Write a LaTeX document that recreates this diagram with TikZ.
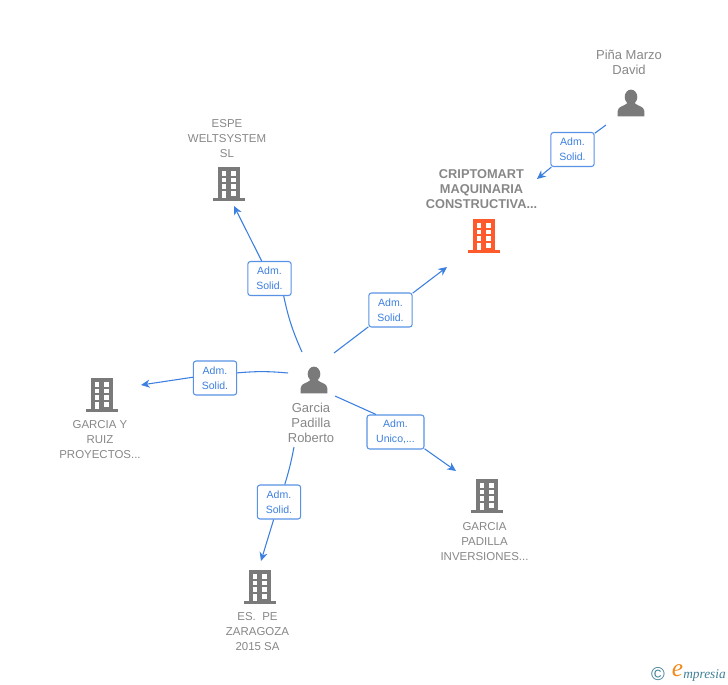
\documentclass[tikz,border=0pt]{standalone}
\usepackage{fontspec}
\setmainfont{Liberation Sans}
\newfontfamily\logofont{Liberation Serif}
\usetikzlibrary{arrows.meta,positioning}
\definecolor{Primary}{HTML}{3B7FE0}
\definecolor{Secondary}{HTML}{7A7A7A}
\definecolor{Accent}{HTML}{FF5A2B}
\definecolor{LogoTeal}{HTML}{3F7F96}
\definecolor{LogoOrange}{HTML}{F08A1D}
\tikzset{
nametext/.style= {text=Secondary!90,align=center,font=\fontsize{8.6}{11.25}\selectfont,inner sep=0pt},
persontext/.style= {nametext,font=\fontsize{9.75}{11.25}\selectfont},
boldtext/.style= {nametext,font=\fontsize{9.6}{11.25}\selectfont\bfseries},
rolebox/.style= {draw=Primary!85,fill=white,rounded corners=2pt,line width=0.8pt,inner sep=0pt,
  minimum width=32.5pt,minimum height=25.5pt,align=center,text=Primary,
  font=\fontsize{7.9}{11.25}\selectfont},
link/.style= {draw=Primary,line width=0.8pt},
linkend/.style= {link,-{Stealth[length=6.5pt,width=6pt,inset=2pt]}},
building/.pic= {
    \fill[#1] (-11,-17) rectangle (11,15);
    \fill[#1] (-16,14) rectangle (16,17);
    \foreach \yt/\yb in {-13/-8.3,-6.3/-2,0/4.7} {
        \fill[white] (-7.3,\yt) rectangle (-2.7,\yb);
        \fill[white] (2,\yt) rectangle (6.7,\yb);
    }
    \fill[white] (-7.3,7) rectangle (-2.7,14.3);
    \fill[white] (2,7) rectangle (6.7,11.5);
},
person/.pic= {
    \fill[#1] (0,-6) ellipse (6.3 and 7.4);
    \fill[#1] (-13.3,13.3) -- (-13.3,8) .. controls (-13,3) and (-7,3.5) .. (-3.5,0)
        -- (3.5,0) .. controls (7,3.5) and (13,3) .. (13.3,8) -- (13.3,13.3) -- cycle;
}
}

\begin{document}
\begin{tikzpicture}[x=0.75pt,y=-0.75pt]
    \useasboundingbox (0,0) rectangle (728,685);

    % icons
    \pic at (631,103) {person=Secondary};
    \pic at (314,380) {person=Secondary};
    \pic at (484,236) {building=Accent};
    \pic at (229,184) {building=Secondary};
    \pic at (102,395) {building=Secondary};
    \pic at (487,496) {building=Secondary};
    \pic at (260,587) {building=Secondary};

    % names
    \node[persontext] (pina) at (629,62) {Piña Marzo\\David};
    \node[boldtext] (cripto) at (481.5,189.5) {CRIPTOMART\\MAQUINARIA\\CONSTRUCTIVA...};
    \node[nametext] (espe) at (227,139) {ESPE\\WELTSYSTEM\\SL};
    \node[nametext] (ruiz) at (100,440) {GARCIA Y\\RUIZ\\PROYECTOS...};
    \node[persontext] (garcia) at (311,423) {Garcia\\Padilla\\Roberto};
    \node[nametext] (inversiones) at (484.5,542) {GARCIA\\PADILLA\\INVERSIONES...};
    \node[nametext] (zaragoza) at (257.5,632) {ES.\ \ PE\\ZARAGOZA\\2015 SA};

    % roles
    \node[rolebox] (rolePina) at (572.5,149.5) {Adm.\\Solid.};
    \node[rolebox] (roleEspe) at (269.5,278.5) {Adm.\\Solid.};
    \node[rolebox] (roleCripto) at (390.5,310) {Adm.\\Solid.};
    \node[rolebox] (roleRuiz) at (215,378) {Adm.\\Solid.};
    \node[rolebox,minimum width=42.75pt] (roleInv) at (395.5,432) {Adm.\\Unico,...};
    \node[rolebox] (roleZar) at (279,502) {Adm.\\Solid.};

    % free ends
    \coordinate (fromPina) at (606,125);
    \coordinate (toCripto) at (537,179);
    \coordinate (fromEspe) at (302,352);
    \coordinate (toEspe) at (234,206);
    \coordinate (fromCripto) at (334,353);
    \coordinate (toCriptoB) at (447,267);
    \coordinate (fromRuiz) at (288,373);
    \coordinate (toRuiz) at (141,385);
    \coordinate (fromInv) at (335,396);
    \coordinate (toInv) at (456,471);
    \coordinate (fromZar) at (294,447);
    \coordinate (toZar) at (261,561);

    % connectors
    \draw[link] (fromPina) -- (rolePina);
    \draw[linkend] (rolePina) -- (toCripto);
    \draw[link] (fromEspe) to[bend left=6] (roleEspe.-51);
    \draw[linkend] (roleEspe.114) -- (toEspe);
    \draw[link] (fromCripto) -- (roleCripto);
    \draw[linkend] (roleCripto) -- (toCriptoB);
    \draw[link] (fromRuiz) to[bend right=5] (roleRuiz.13);
    \draw[linkend] (roleRuiz.178) -- (toRuiz);
    \draw[link] (fromInv) -- (roleInv.138);
    \draw[linkend] (roleInv.-30) -- (toInv);
    \draw[link] (fromZar) to[bend left=3] (roleZar);
    \draw[linkend] (roleZar) -- (toZar);

    % logo
    \node[text=LogoTeal,font=\fontsize{14}{14}\selectfont,inner sep=0pt] (logoC) at (658,674) {©};
    \node[text=LogoOrange,font=\logofont\itshape\fontsize{19}{19}\selectfont,inner sep=0pt] (logoE) at (677.5,671) {e};
    \node[text=LogoTeal,font=\logofont\itshape\fontsize{10}{10}\selectfont,inner sep=0pt,anchor=west] (logoM) at (683,675) {mpresia};
\end{tikzpicture}
\end{document}
